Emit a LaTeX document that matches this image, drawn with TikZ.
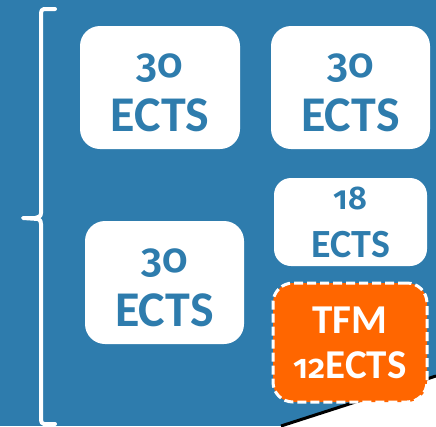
\documentclass[tikz,border=0pt]{standalone}
\usepackage{fontspec}
\setmainfont{Carlito}
\newfontfamily\numfont{Fira Sans}[Numbers=OldStyle, Scale=0.82, BoldFont={Fira Sans SemiBold}]
\definecolor{ectsblue}{RGB}{46,124,173}
\definecolor{tfmorange}{RGB}{255,102,0}
\tikzset{
  ectsbox/.style={fill=white, inner sep=0pt, rounded corners=20pt},
  ectstext/.style={text=ectsblue, inner sep=0pt, align=center, yshift=-5pt,
    font=\bfseries\fontsize{50}{54}\selectfont},
  smallbox/.style={fill=white, text=ectsblue, inner sep=0pt, align=center,
    rounded corners=17pt, font=\bfseries\fontsize{40}{48}\selectfont},
  tfmbox/.style={fill=tfmorange, draw=white, line width=3pt, dash pattern=on 9pt off 4pt,
    rounded corners=20pt, text=white, inner sep=0pt, align=center,
    font=\bfseries\fontsize{41}{45}\selectfont}
}
\begin{document}
\begin{tikzpicture}[x=1pt,y=-1pt]
        \fill[ectsblue] (0,0) rectangle (436,426);
        \useasboundingbox (0,0) rectangle (436,426);
        % white corner under the black line
        \fill[white] (281,426) -- (436,376) -- (436,426) -- cycle;
        \draw[line width=3pt] (281,426) -- (436,376);
        % brace
        \draw[white, line width=4pt, line cap=round, line join=round]
          (55,9) -- (44,9) to[out=180,in=90] (41,13) -- (41,213)
          to[out=-90,in=0] (25,218) -- (23,218) -- (38,219) to[out=0,in=90] (41,224)
          -- (41,420) to[out=-90,in=180] (44,424) -- (55,424);
        \node[ectsbox, minimum width=160pt, minimum height=123pt,
          label={[ectstext]center:{\numfont 30}\\ECTS}] (s1) at (160,87.5) {};
        \node[ectsbox, minimum width=159pt, minimum height=123pt,
          label={[ectstext]center:{\numfont 30}\\ECTS}] (s2) at (350.5,87.5) {};
        \node[ectsbox, minimum width=159pt, minimum height=123pt,
          label={[ectstext]center:{\numfont 30}\\ECTS}] (s3) at (164.5,282.5) {};
        \node[smallbox, minimum width=153pt, minimum height=88pt] (s4) at (350.5,222) {{\numfont 18}\\ECTS};
        \node[tfmbox, minimum width=154pt, minimum height=119pt] (tfm) at (350,342.5) {TFM\\{\numfont 12}ECTS};
\end{tikzpicture}
\end{document}
